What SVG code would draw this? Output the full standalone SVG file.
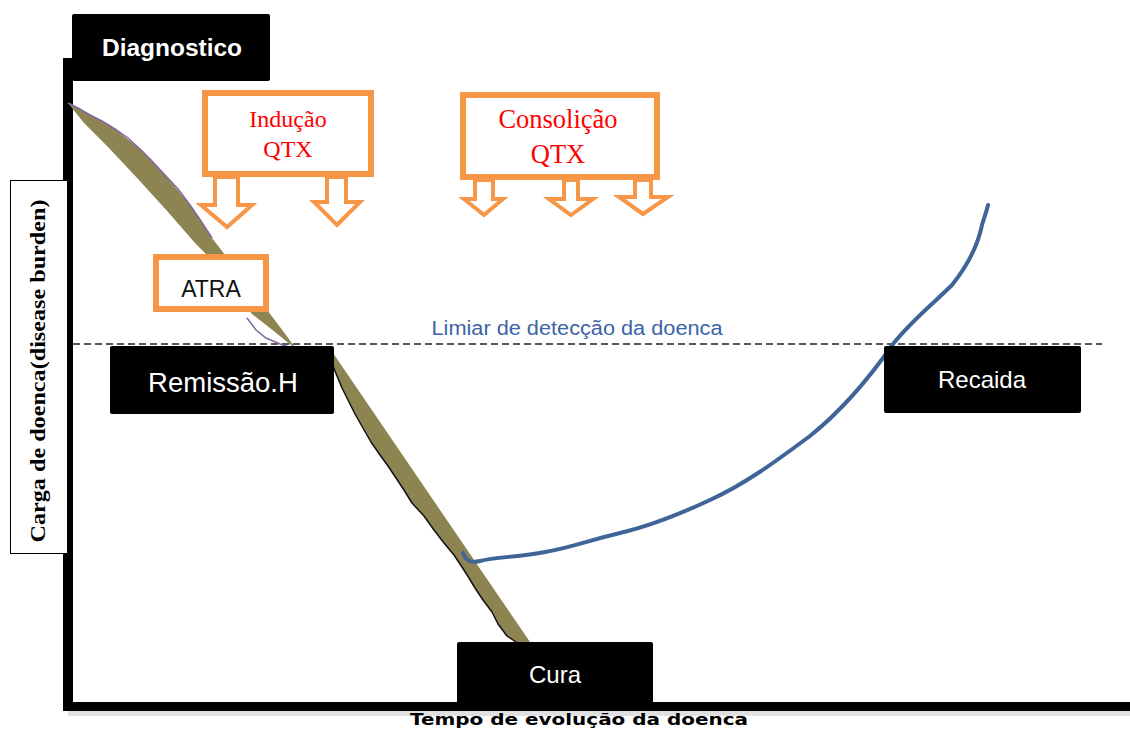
<svg xmlns="http://www.w3.org/2000/svg" width="1130" height="731" viewBox="0 0 1130 731">
<style>
.box{fill:#000;}
.wt{fill:#fff;font-family:"Liberation Sans",Arial,sans-serif;text-anchor:middle;}
.ob{fill:#fff;stroke:#f79646;stroke-width:6;}
.arr{fill:#fff;stroke:#f79646;stroke-width:4;stroke-linejoin:miter;}
.rt{fill:#ff0000;font-family:"Liberation Serif","Times New Roman",serif;text-anchor:middle;}
</style>
<rect width="1130" height="731" fill="#fff"/>
<g id="axes">
<rect x="68" y="711" width="1062" height="5" fill="#000" opacity="0.12"/>
<rect x="63" y="58" width="10" height="653" fill="#000"/>
<rect x="63" y="702" width="1067" height="9" fill="#000"/>
</g>
<g id="ylabel">
<rect x="10.5" y="180.5" width="57" height="373" fill="#fff" stroke="#000" stroke-width="1"/>
<text transform="translate(45,371) rotate(-90)" x="0" y="0" text-anchor="middle" font-family="Liberation Serif,Times New Roman,serif" font-weight="bold" font-size="22" textLength="343" lengthAdjust="spacingAndGlyphs">Carga de doenca(disease burden)</text>
</g>
<g id="xlabel">
<text x="579" y="725" text-anchor="middle" font-family="DejaVu Sans,Verdana,sans-serif" font-weight="bold" font-size="16.5" textLength="338" lengthAdjust="spacingAndGlyphs">Tempo de evolução da doenca</text>
</g>
<g id="threshold">
<line x1="73" y1="344" x2="1102" y2="344" stroke="#222" stroke-width="1.3" stroke-dasharray="7 4"/>
<text x="577" y="335" text-anchor="middle" fill="#3d64a6" font-family="Liberation Sans,Arial,sans-serif" font-size="20" textLength="291" lengthAdjust="spacingAndGlyphs">Limiar de detecção da doenca</text>
</g>
<g id="connectors">
<path d="M68,103 L90,115 L115,129 L140,149 L165,175 L190,205 L212,238 L235,268 L258,298 L280,327 L297,350 L275,332 L252,314 L232,288 L208,256 L195,243 L168,212 L138,179 L108,147 L84,123 Z" fill="#8e8452"/>
<path d="M68,103 L78,108 L90,115 L102,121 L115,129 L128,138 L140,149 L152,161 L165,175 L178,189 L190,205 L201,221 L212,238" fill="none" stroke="#8064a2" stroke-width="1.5"/>
<path d="M247,318 L256,330 L266,338 L280,344 L297,350" fill="none" stroke="#8064a2" stroke-width="1.5"/>
<path d="M333,353 L530,642 L516,642 L507,636 L498,624 L492,612 L483,600 L475,588 L469,578 L462,567 L454,555 L444,543 L434,530 L424,516 L412,503 L404,490 L396,478 L388,466 L380,455 L371,442 L363,428 L355,414 L348,400 L342,388 L337,376 L333,366 Z" fill="#8e8452"/>
<path d="M516,642 L507,636 L498,624 L492,612 L483,600 L475,588 L469,578 L462,567 L454,555 L444,543 L434,530 L424,516 L412,503 L404,490 L396,478 L388,466 L380,455 L371,442 L363,428 L355,414 L348,400 L342,388 L337,376 L333,366" fill="none" stroke="#111" stroke-width="1.5" stroke-linejoin="round"/>
<path d="M463,553 C466,562 472,563 480,561 C495,557 520,557 545,552 C570,548 590,540 620,533 C650,526 680,514 710,500 C745,484 775,462 810,436 C840,412 868,380 893,344 C912,320 935,302 952,285 C968,265 978,245 982,225 C985,215 987,210 988,205" fill="none" stroke="#3f6497" stroke-width="4" stroke-linecap="round"/>
</g>
<g id="diagnostico">
<rect class="box" x="72" y="14" width="198" height="67" rx="2"/>
<text class="wt" x="172" y="56" font-size="23" font-weight="bold" textLength="140" lengthAdjust="spacingAndGlyphs">Diagnostico</text>
</g>
<g id="inducao">
<rect class="ob" x="205" y="93" width="166" height="81"/>
<text class="rt" x="288" y="127" font-size="24">Indução</text>
<text class="rt" x="288" y="157" font-size="24">QTX</text>
<path class="arr" d="M215,177 L238,177 L238,205 L252,205 L227,227 L201,205 L215,205 Z"/>
<path class="arr" d="M327,177 L346,177 L346,202 L360,202 L337,225 L314,202 L327,202 Z"/>
</g>
<g id="consolicao">
<rect class="ob" x="463" y="95" width="194" height="82"/>
<text class="rt" x="558" y="128" font-size="26.5">Consolição</text>
<text class="rt" x="558" y="163" font-size="26.5">QTX</text>
<path class="arr" d="M475,180 L493,180 L493,199 L503,199 L484,215 L464,199 L475,199 Z"/>
<path class="arr" d="M564,180 L578,180 L578,199 L593,199 L571,215 L549,199 L564,199 Z"/>
<path class="arr" d="M635,180 L651,180 L651,197 L668,197 L643,214 L619,197 L635,197 Z"/>
</g>
<g id="atra">
<rect class="ob" x="156" y="257" width="110" height="52"/>
<text x="211" y="297" text-anchor="middle" fill="#111" font-family="Liberation Sans,Arial,sans-serif" font-size="23">ATRA</text>
</g>
<g id="remissao">
<rect class="box" x="110" y="346" width="224" height="68" rx="2"/>
<text class="wt" x="223" y="392" font-size="27.5">Remissão.H</text>
</g>
<g id="recaida">
<rect class="box" x="884" y="346" width="197" height="67" rx="2"/>
<text class="wt" x="982" y="388" font-size="24">Recaida</text>
</g>
<g id="cura">
<rect class="box" x="457" y="642" width="196" height="62" rx="2"/>
<text class="wt" x="555" y="683" font-size="24">Cura</text>
</g>
</svg>
